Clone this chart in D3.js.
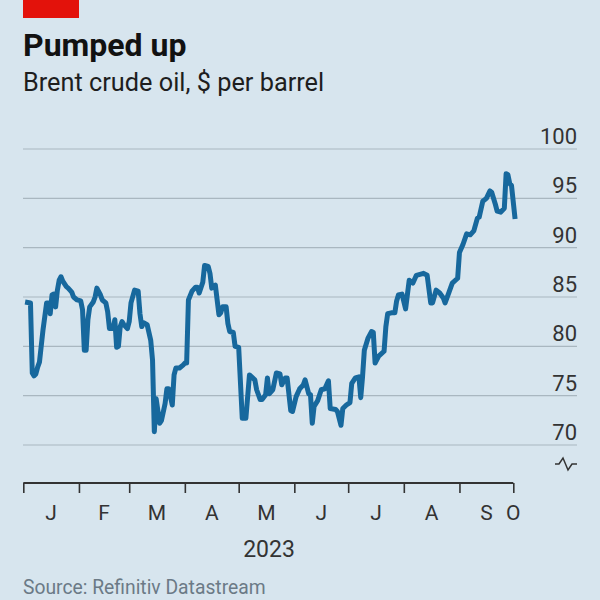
<!DOCTYPE html>
<html>
<head>
<meta charset="utf-8">
<script src="https://cdn.jsdelivr.net/npm/d3@7"></script>
<style>
  html, body { margin: 0; padding: 0; background: #d7e5ee; }
  svg { display: block; }
  text { font-family: Roboto, "Liberation Sans", sans-serif; }
</style>
</head>
<body>
<div id="chart"></div>
<script>
// ---- data (Brent crude oil, $ per barrel, 2023) ----
const dates = [
  "2023-01-02","2023-01-05","2023-01-06","2023-01-07","2023-01-08","2023-01-09","2023-01-10","2023-01-12",
  "2023-01-14","2023-01-15","2023-01-16","2023-01-17","2023-01-18","2023-01-19","2023-01-20","2023-01-21",
  "2023-01-22","2023-01-23","2023-01-25","2023-01-26","2023-01-28","2023-01-29","2023-01-31",
  "2023-02-02","2023-02-03","2023-02-04","2023-02-05","2023-02-06","2023-02-07","2023-02-09","2023-02-10",
  "2023-02-11","2023-02-13","2023-02-14","2023-02-16","2023-02-17","2023-02-18","2023-02-20","2023-02-21",
  "2023-02-22","2023-02-23","2023-02-24","2023-02-25","2023-02-26","2023-02-28",
  "2023-03-01","2023-03-02","2023-03-04","2023-03-06","2023-03-07","2023-03-08","2023-03-09","2023-03-11",
  "2023-03-13","2023-03-14","2023-03-15","2023-03-16","2023-03-18","2023-03-19","2023-03-21","2023-03-22",
  "2023-03-23","2023-03-25","2023-03-26","2023-03-27","2023-03-29","2023-03-31",
  "2023-04-01","2023-04-02","2023-04-03","2023-04-05","2023-04-07","2023-04-08","2023-04-09","2023-04-11",
  "2023-04-12","2023-04-14","2023-04-15","2023-04-16","2023-04-18","2023-04-20","2023-04-21","2023-04-22",
  "2023-04-24","2023-04-25","2023-04-26","2023-04-28","2023-04-29",
  "2023-05-01","2023-05-03","2023-05-05","2023-05-07","2023-05-10","2023-05-11","2023-05-13","2023-05-14",
  "2023-05-16","2023-05-17","2023-05-18","2023-05-20","2023-05-22","2023-05-24","2023-05-25","2023-05-27",
  "2023-05-28","2023-05-30","2023-05-31",
  "2023-06-02","2023-06-04","2023-06-06","2023-06-07","2023-06-09","2023-06-10","2023-06-11","2023-06-12",
  "2023-06-14","2023-06-16","2023-06-18","2023-06-20","2023-06-21","2023-06-24","2023-06-25","2023-06-27",
  "2023-06-28","2023-06-30",
  "2023-07-02","2023-07-03","2023-07-05","2023-07-07","2023-07-08","2023-07-09","2023-07-10","2023-07-12",
  "2023-07-14","2023-07-15","2023-07-16","2023-07-18","2023-07-21","2023-07-22","2023-07-23","2023-07-25",
  "2023-07-27","2023-07-28","2023-07-29","2023-07-31",
  "2023-08-02","2023-08-04","2023-08-06","2023-08-08","2023-08-10","2023-08-12","2023-08-14","2023-08-16",
  "2023-08-17","2023-08-19","2023-08-21","2023-08-23","2023-08-24","2023-08-26","2023-08-28","2023-08-31",
  "2023-09-01","2023-09-03","2023-09-05","2023-09-07","2023-09-09","2023-09-11","2023-09-12","2023-09-14",
  "2023-09-16","2023-09-18","2023-09-19","2023-09-21","2023-09-22","2023-09-24","2023-09-26","2023-09-27",
  "2023-09-28","2023-09-29","2023-09-30","2023-10-02"
];
const prices = [
  84.5,84.4,77.3,77.0,77.2,77.9,78.4,81.7,
  84.4,84.4,83.3,85.2,85.3,84.0,85.7,86.7,
  87.05,86.6,86.05,85.9,85.5,85.0,84.7,
  84.6,83.7,79.6,79.6,82.7,84.0,84.5,85.0,
  85.9,85.2,84.7,84.4,83.5,81.8,81.8,82.7,
  79.9,80.0,82.0,82.5,82.2,81.8,
  82.5,84.4,85.7,85.6,83.3,82.0,82.4,82.2,
  80.6,78.6,71.35,74.7,72.2,72.5,74.2,75.7,
  75.7,74.05,77.1,77.8,77.8,78.1,
  78.3,78.3,84.7,85.6,86.0,86.0,85.4,86.5,
  88.2,88.1,87.4,85.9,86.2,83.2,83.4,84.0,
  84.0,82.3,81.5,81.4,80.0,
  79.9,72.7,72.7,77.1,76.6,75.6,74.6,74.6,
  75.1,76.8,75.2,75.6,77.3,77.2,76.1,76.8,
  76.8,73.5,73.4,
  74.9,75.7,76.1,76.6,75.2,75.1,72.2,73.9,
  74.5,75.6,75.7,76.5,73.7,73.6,73.4,72.0,
  73.7,74.05,
  74.3,76.25,76.8,76.9,74.8,76.9,79.6,80.8,
  81.5,81.4,78.3,79.0,79.5,82.0,83.3,83.4,
  83.4,84.6,85.2,85.3,
  83.8,86.7,86.4,87.2,87.3,87.4,87.2,84.4,
  84.4,85.7,85.4,84.9,84.4,85.4,86.4,86.9,
  89.5,90.35,91.4,91.3,91.7,93.0,93.1,94.7,
  95.0,95.75,95.6,94.4,93.7,93.6,94.0,97.5,
  97.4,96.5,96.3,92.9
];
const yTicks = [70, 75, 80, 85, 90, 95, 100];
const monthStarts = ["2023-01-01","2023-02-01","2023-03-01","2023-04-01","2023-05-01","2023-06-01","2023-07-01","2023-08-01","2023-09-01","2023-10-01"];
const monthLabels = ["J","F","M","A","M","J","J","A","S","O"];
const yearLabel = "2023";
const title = "Pumped up";
const subtitle = "Brent crude oil, $ per barrel";
const source = "Source: Refinitiv Datastream";

// ---- layout ----
const W = 600, H = 600;
const parse = d3.utcParse("%Y-%m-%d");
const series = dates.map((d, i) => ({ date: parse(d), value: prices[i] }));
const mStarts = monthStarts.map(parse);

const x = d3.scaleUtc().domain([mStarts[0], mStarts[mStarts.length - 1]]).range([23.3, 513.3]);
const y = d3.scaleLinear().domain([70, 100]).range([445, 149]);

const svg = d3.select("#chart").append("svg").attr("width", W).attr("height", H);
svg.append("rect").attr("width", W).attr("height", H).attr("fill", "#d7e5ee");

// red tag
svg.append("rect").attr("x", 23).attr("y", 0).attr("width", 56).attr("height", 18).attr("fill", "#e3120b");

svg.append("text").attr("x", 23).attr("y", 56).text(title)
  .attr("font-size", 32).attr("font-weight", 700).attr("fill", "#121212");
svg.append("text").attr("x", 23).attr("y", 91).text(subtitle)
  .attr("font-size", 25.3).attr("fill", "#1e1e1e");

// gridlines
const grid = svg.append("g");
grid.selectAll("line").data(yTicks).join("line")
  .attr("x1", 23).attr("x2", 577)
  .attr("y1", d => y(d)).attr("y2", d => y(d))
  .attr("stroke", "#a9b7c0").attr("stroke-width", 1.2);

// y labels
svg.append("g").selectAll("text").data(yTicks).join("text")
  .attr("x", 577).attr("y", d => y(d) - 5)
  .attr("text-anchor", "end").attr("font-size", 22).attr("fill", "#333")
  .text(d => d);

// axis break symbol
svg.append("path")
  .attr("d", "M555,464 L559,464 L563,458 L568,470 L572,464 L577,464")
  .attr("fill", "none").attr("stroke", "#333").attr("stroke-width", 1.5);

// x axis
const xAxis = d3.axisBottom(x).tickValues(mStarts).tickSize(10).tickFormat("");
const gx = svg.append("g").attr("transform", "translate(0,483)").call(xAxis);
gx.select(".domain").attr("stroke", "#333").attr("stroke-width", 2).attr("d", `M${x(mStarts[0])},0H${x(mStarts[mStarts.length-1])}`);
gx.selectAll(".tick line").attr("stroke", "#333").attr("stroke-width", 1.6);

// month labels (centred within month, last at its tick)
svg.append("g").selectAll("text").data(monthLabels).join("text")
  .attr("x", (d, i) => i < mStarts.length - 1 ? (x(mStarts[i]) + x(mStarts[i + 1])) / 2 : x(mStarts[i]))
  .attr("y", 520).attr("text-anchor", "middle").attr("font-size", 21).attr("fill", "#333")
  .text(d => d);

svg.append("text").attr("x", 269).attr("y", 557).attr("text-anchor", "middle")
  .attr("font-size", 23).attr("fill", "#333").text(yearLabel);

svg.append("text").attr("x", 23).attr("y", 594).attr("font-size", 19.3).attr("fill", "#6b7a86").text(source);

// line
const line = d3.line().x(d => x(d.date)).y(d => y(d.value));
svg.append("path").datum(series)
  .attr("d", line).attr("fill", "none")
  .attr("stroke", "#17689d").attr("stroke-width", 5)
  .attr("stroke-linejoin", "round").attr("stroke-linecap", "butt");
</script>
</body>
</html>
